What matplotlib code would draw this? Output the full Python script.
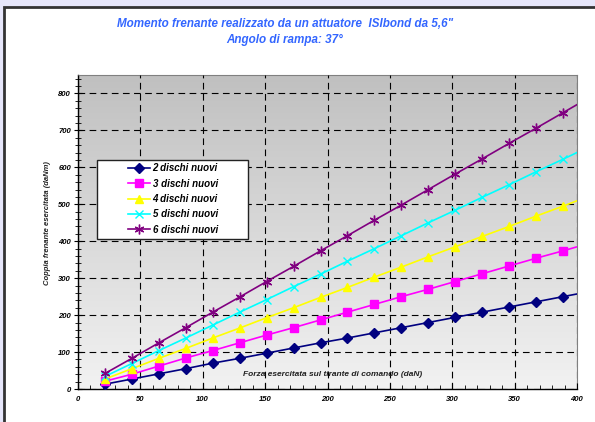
import numpy as np
import matplotlib
matplotlib.use('Agg')
import matplotlib.pyplot as plt
from matplotlib.patches import Rectangle
from matplotlib.ticker import MultipleLocator

plt.rcParams['font.family'] = ['Liberation Sans', 'DejaVu Sans']

# forza sul tirante (daN)
forza = [21.6, 43.2, 64.8, 86.4, 108.0, 129.6, 151.2, 172.8, 194.4, 216.0,
         237.6, 259.2, 280.8, 302.4, 324.0, 345.6, 367.2, 388.8, 410.4]

# coppia frenante (daNm)
dischi_2 = [13, 27, 41, 55, 70, 83, 97, 111, 125, 138, 152, 166, 180, 194, 208, 222, 236, 250, 264]
dischi_3 = [21, 40, 62, 84, 104, 125, 146, 166, 187, 208, 229, 250, 270, 291, 312, 333, 354, 374, 395]
dischi_4 = [27, 55, 83, 110, 138, 165, 193, 220, 248, 275, 303, 330, 358, 385, 413, 440, 468, 495, 523]
dischi_5 = [34, 69, 104, 138, 173, 208, 242, 277, 311, 346, 380, 415, 450, 484, 519, 553, 588, 622, 657]
dischi_6 = [42, 83, 125, 166, 208, 249, 291, 332, 374, 415, 457, 498, 540, 582, 623, 665, 706, 748, 790]

etichette = ['2 dischi nuovi', '3 dischi nuovi', '4 dischi nuovi', '5 dischi nuovi', '6 dischi nuovi']
colori = ['#000080', '#FF00FF', '#FFFF00', '#00FFFF', '#800080']

W, H = 595, 422
fig = plt.figure(figsize=(W / 100, H / 100), dpi=100, facecolor='#E6E6FA')

# pannello bianco
bg = fig.add_axes([0, 0, 1, 1], zorder=0)
bg.set_xlim(0, W)
bg.set_ylim(H, 0)
bg.axis('off')
bg.add_patch(Rectangle((4, 7), W + 10, H + 10, facecolor='white', edgecolor='#333333', lw=2))

ax = fig.add_axes([78 / W, 1 - 389 / H, (577 - 78) / W, (389 - 75) / H], zorder=2)
ax.set_xlim(0, 400)
ax.set_ylim(0, 850)

# sfondo sfumato
grad = np.linspace(0, 1, 256).reshape(-1, 1)
cmap = matplotlib.colors.LinearSegmentedColormap.from_list('g', ['#F2F2F2', '#C0C0C0'])
ax.imshow(grad, extent=[0, 400, 0, 850], origin='lower', aspect='auto', cmap=cmap, zorder=0)

ax.grid(True, color='black', linestyle=(0, (6, 4)), linewidth=0.8, zorder=1)
ax.set_axisbelow(False)

serie = [dischi_2, dischi_3, dischi_4, dischi_5, dischi_6]
markers = ['D', 's', '^', 'x', (6, 2, 0)]
msizes = [5, 6, 6, 6, 7]
for y, lab, c, m, ms in zip(serie, etichette, colori, markers, msizes):
    ax.plot(forza, y, color=c, lw=1.2, marker=m, markersize=ms, markeredgewidth=1.0,
            label=lab, zorder=3, clip_on=True)

ax.xaxis.set_major_locator(MultipleLocator(50))
ax.xaxis.set_minor_locator(MultipleLocator(10))
ax.yaxis.set_major_locator(MultipleLocator(100))
ax.yaxis.set_minor_locator(MultipleLocator(20))
ax.tick_params(axis='x', which='major', direction='in', length=4, width=0.8, pad=5)
ax.tick_params(axis='x', which='minor', direction='in', length=3, width=0.6)
ax.tick_params(axis='y', which='major', direction='inout', length=6, width=0.8, pad=2)
ax.tick_params(axis='y', which='minor', direction='inout', length=4, width=0.6)
for lab in ax.get_xticklabels() + ax.get_yticklabels():
    lab.set_fontsize(5.5)
    lab.set_fontweight('bold')
    lab.set_fontstyle('italic')

for s in ['top', 'right']:
    ax.spines[s].set_color('#808080')
for s in ['left', 'bottom']:
    ax.spines[s].set_color('black')
    ax.spines[s].set_linewidth(1.0)

ax.text(204, 40, 'Forza esercitata sul tirante di comando (daN)', ha='center', va='center',
        fontsize=6, fontweight='bold', style='italic', color='#222222', zorder=4)

fig.text(48 / W, 1 - 223 / H, 'Coppia frenante esercitata (daNm)', rotation=90, ha='center', va='center',
         fontsize=5.5, fontweight='bold', style='italic', color='#222222', zorder=3)

fig.text(285 / W, 1 - 24 / H, 'Momento frenante realizzato da un attuatore  ISIbond da 5,6"',
         ha='center', va='center', fontsize=8.4, fontweight='bold', style='italic', color='#3366FF', zorder=3)
fig.text(285 / W, 1 - 40 / H, 'Angolo di rampa: 37°',
         ha='center', va='center', fontsize=8.4, fontweight='bold', style='italic', color='#3366FF', zorder=3)

# riquadro legenda
def px2ax(x, y):
    return (x - 78) / (577 - 78), (389 - y) / (389 - 75)

x0, y0 = px2ax(97, 239)
x1, y1 = px2ax(248, 160)
ax.add_patch(Rectangle((x0, y0), x1 - x0, y1 - y0, transform=ax.transAxes,
                       facecolor='white', edgecolor='#222222', lw=1.0, zorder=5))

leg = ax.legend(loc='center', bbox_to_anchor=px2ax(173, 199), frameon=False,
                handlelength=2.2, borderpad=0, labelspacing=0.55, handletextpad=0.3,
                prop={'size': 7, 'weight': 'bold', 'style': 'italic'})
leg.set_zorder(6)

fig.savefig('out.png', dpi=100, facecolor=fig.get_facecolor())
